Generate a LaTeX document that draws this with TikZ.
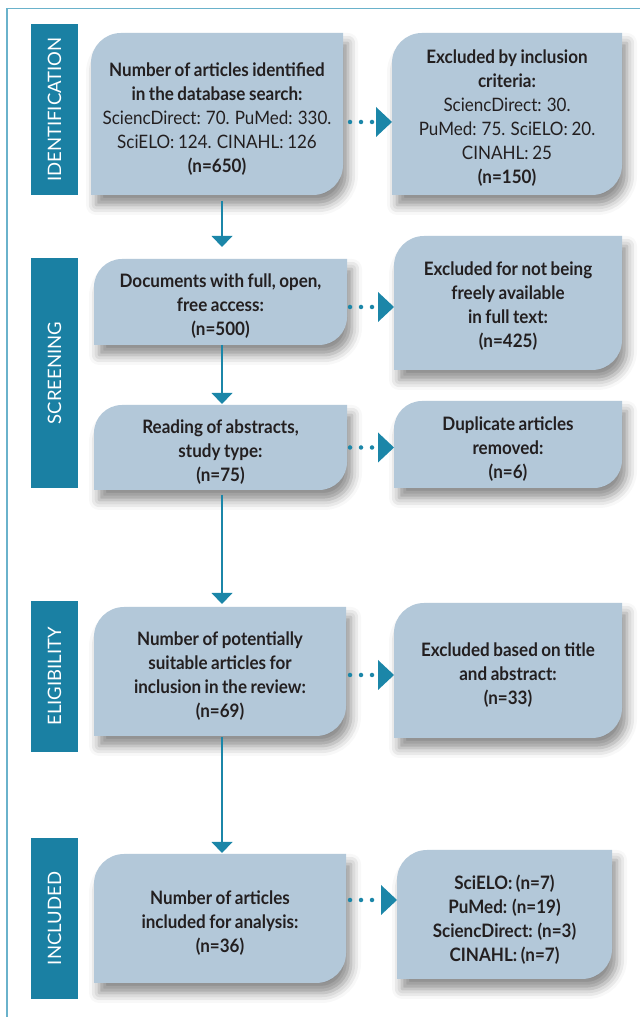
\documentclass[tikz,border=0pt]{standalone}
\usepackage{fontspec}
\setmainfont{Lato}[FakeStretch=0.92,WordSpace=0.85]
\newfontfamily\barfont{Lato}
\usetikzlibrary{arrows.meta,shadows.blur,calc}
\definecolor{barc}{HTML}{1A80A3}
\definecolor{boxc}{HTML}{B3C8D9}
\definecolor{arrc}{HTML}{1B86A8}
\definecolor{framec}{HTML}{6AB2CB}
\definecolor{txtc}{HTML}{231F20}
\pgfdeclarelayer{background}
\pgfsetlayers{background,main}
\newcommand{\leafbox}[2][30pt]{%
  \fill[boxshape] (#2.south west) -- ([yshift=-#1]#2.north west)
    arc[start angle=180,end angle=90,radius=#1] -- (#2.north east)
    -- ([yshift=#1]#2.south east)
    arc[start angle=0,end angle=-90,radius=#1] -- cycle;}
\begin{document}
\begin{tikzpicture}[x=1pt,y=1pt,
  boxshape/.style={fill=boxc, blur shadow={shadow xshift=5pt, shadow yshift=-10pt, shadow blur radius=10pt, shadow opacity=45}},
  shp/.style={inner sep=0pt, outer sep=0pt},
  bx/.style={inner sep=0pt, outer sep=0pt, align=center, text=txtc,
    font=\fontsize{18.5}{24}\selectfont\bfseries},
  bar/.style={fill=barc, rotate=90, inner sep=0pt, outer sep=0pt, minimum height=47pt,
    text=white, font=\barfont\fontsize{18.5}{19}\selectfont},
  dn/.style={draw=arrc, line width=2.5pt, -{Triangle[width=21pt,length=11pt,line width=0pt,fill=arrc]}},
  dots/.style={draw=arrc, line width=4.5pt, line cap=round, dash pattern=on 0pt off 11pt,
    -{Triangle[width=30pt,length=16pt,line width=0pt,fill=arrc]}}
]
\useasboundingbox (0,0) rectangle (640,1017);
\draw[framec, line width=1.5pt] (7,0) -- (7,1008.5) -- (640,1008.5);

% phase bars
\node[bar, minimum width=171pt] (b1) at (54.5,907.5) {IDENTIFICATION};
\node[bar, minimum width=230pt] (b2) at (54.5,644) {SCREENING};
\node[bar, minimum width=151pt] (b3) at (54.5,340.5) {ELIGIBILITY};
\node[bar, minimum width=161pt] (b4) at (54.5,98.5) {INCLUDED};

% box shapes
\node[shp, minimum width=252pt, minimum height=162pt] (A) at (217,903) {};
\node[shp, minimum width=230pt, minimum height=162pt] (B) at (507,903) {};
\node[shp, minimum width=253pt, minimum height=86pt] (C) at (220.5,715) {};
\node[shp, minimum width=228pt, minimum height=134pt] (D) at (508,714) {};
\node[shp, minimum width=253pt, minimum height=85pt] (E) at (220.5,569.5) {};
\node[shp, minimum width=228pt, minimum height=87pt] (F) at (508,572.5) {};
\node[shp, minimum width=252pt, minimum height=129pt] (G) at (220,345.5) {};
\node[shp, minimum width=228pt, minimum height=135pt] (H) at (508,346.5) {};
\node[shp, minimum width=252pt, minimum height=129pt] (I) at (220,98.5) {};
\node[shp, minimum width=215pt, minimum height=129pt] (J) at (504.5,102.5) {};

% box texts
\node[bx] (At) at ([yshift=-5pt]A.center)
  {Number of articles identified\\in the database search:\\\textmd{SciencDirect: 70. PuMed: 330.}\\\textmd{SciELO: 124. CINAHL: 126}\\(n=650)};
\node[bx] (Bt) at ([yshift=-4pt]B.center)
  {Excluded by inclusion\\criteria:\\\textmd{SciencDirect: 30.}\\\textmd{PuMed: 75. SciELO: 20.}\\\textmd{CINAHL: 25}\\(n=150)};
\node[bx] (Ct) at ([yshift=-4pt]C.center)
  {Documents with full, open,\\free access:\\(n=500)};
\node[bx] (Dt) at ([yshift=-3pt]D.center)
  {Excluded for not being\\freely available\\in full text:\\(n=425)};
\node[bx] (Et) at ([yshift=-4.5pt]E.center)
  {Reading of abstracts,\\study type:\\(n=75)};
\node[bx] (Ft) at ([yshift=-4.5pt]F.center)
  {Duplicate articles\\removed:\\(n=6)};
\node[bx] (Gt) at ([yshift=-4.5pt]G.center)
  {Number of potentially\\suitable articles for\\inclusion in the review:\\(n=69)};
\node[bx] (Ht) at ([yshift=-4.5pt]H.center)
  {Excluded based on title\\and abstract:\\(n=33)};
\node[bx] (It) at ([yshift=-5pt]I.center)
  {Number of articles\\included for analysis:\\(n=36)};
\node[bx] (Jt) at ([yshift=-5pt]J.center)
  {SciELO: (n=7)\\PuMed: (n=19)\\SciencDirect: (n=3)\\CINAHL: (n=7)};

\begin{pgfonlayer}{background}
\leafbox{A}\leafbox{B}\leafbox[28pt]{C}\leafbox{D}\leafbox[28pt]{E}\leafbox[28pt]{F}
\leafbox{G}\leafbox{H}\leafbox{I}\leafbox{J}
\end{pgfonlayer}

% vertical flow
\coordinate (ax) at (222,0);
\draw[dn, shorten <=6pt, shorten >=12pt] (A.south -| ax) -- (C.north -| ax);
\draw[dn, shorten >=1pt] (C.south -| ax) -- (E.north -| ax);
\draw[dn, shorten <=5pt, shorten >=3pt] (E.south -| ax) -- (G.north -| ax);
\draw[dn, shorten <=1pt, shorten >=1pt] (G.south -| ax) -- (I.north -| ax);

% exclusions
\draw[dots, shorten <=7pt] ([yshift=-8pt]A.east) -- ([yshift=-8pt]A.east -| B.west);
\draw[dots, shorten <=3pt] ([yshift=-5pt]C.east) -- ([yshift=-5pt]C.east -| D.west);
\draw[dots, shorten <=3pt] (E.east) -- (E.east -| F.west);
\draw[dots, shorten <=4pt] ([yshift=-3.5pt]G.east) -- ([yshift=-3.5pt]G.east -| H.west);
\draw[dots, shorten <=4pt] ([yshift=18.5pt]I.east) -- ([yshift=18.5pt]I.east -| J.west);
\end{tikzpicture}
\end{document}
